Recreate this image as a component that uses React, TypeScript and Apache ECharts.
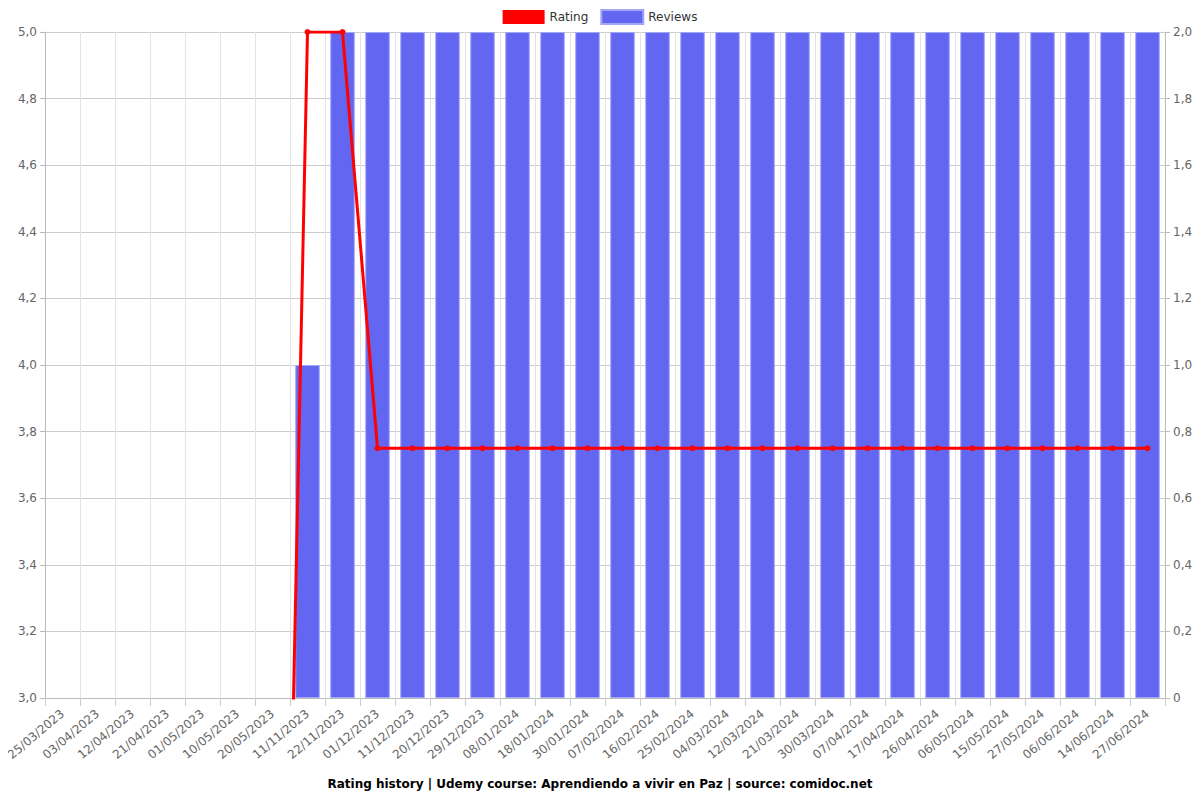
import React, { useEffect, useRef } from "react";
import * as echarts from "echarts";

const categories = [
  "25/03/2023", "03/04/2023", "12/04/2023", "21/04/2023", "01/05/2023", "10/05/2023",
  "20/05/2023", "11/11/2023", "22/11/2023", "01/12/2023", "11/12/2023", "20/12/2023",
  "29/12/2023", "08/01/2024", "18/01/2024", "30/01/2024", "07/02/2024", "16/02/2024",
  "25/02/2024", "04/03/2024", "12/03/2024", "21/03/2024", "30/03/2024", "07/04/2024",
  "17/04/2024", "26/04/2024", "06/05/2024", "15/05/2024", "27/05/2024", "06/06/2024",
  "14/06/2024", "27/06/2024",
];

const ratingValues = [
  0, 0, 0, 0, 0, 0, 0, 5, 5, 3.75, 3.75, 3.75, 3.75, 3.75, 3.75, 3.75, 3.75, 3.75,
  3.75, 3.75, 3.75, 3.75, 3.75, 3.75, 3.75, 3.75, 3.75, 3.75, 3.75, 3.75, 3.75, 3.75,
];

const reviewValues = [
  0, 0, 0, 0, 0, 0, 0, 1, 2, 2, 2, 2, 2, 2, 2, 2, 2, 2, 2, 2, 2, 2, 2, 2, 2, 2, 2, 2,
  2, 2, 2, 2,
];

const titleText = "Rating history | Udemy course: Aprendiendo a vivir en Paz | source: comidoc.net";

const fmt = (v: number) => (v === 0 ? "0" : v.toFixed(1).replace(".", ","));

export default function App() {
  const ref = useRef<HTMLDivElement>(null);
  useEffect(() => {
    if (!ref.current) return;
    const chart = echarts.init(ref.current, undefined, { renderer: "svg" });
    const font = "DejaVu Sans";
    chart.setOption({
      animation: false,
      textStyle: { fontFamily: font },
      title: {
        text: titleText,
        left: "center",
        bottom: 5,
        textStyle: { fontFamily: font, fontSize: 12, fontWeight: "bold", color: "#000" },
      },
      legend: {
        top: 4,
        left: "center",
        itemWidth: 42,
        itemHeight: 14,
        itemGap: 12,
        textStyle: { fontFamily: font, fontSize: 12, color: "#333" },
        data: [
          { name: "Rating", icon: "rect" },
          { name: "Reviews", icon: "rect" },
        ],
      },
      grid: { left: 45, right: 35, top: 32, bottom: 102, containLabel: false },
      xAxis: {
        type: "category",
        data: categories,
        boundaryGap: true,
        axisLine: { lineStyle: { color: "#bbb" } },
        axisTick: { show: true, alignWithLabel: false, length: 8, lineStyle: { color: "#ccc" } },
        axisLabel: { rotate: 40, interval: 0, color: "#666", fontSize: 12, fontFamily: font, margin: 14 },
        splitLine: { show: true, lineStyle: { color: "#e3e3e3" } },
      },
      yAxis: [
        {
          type: "value",
          min: 3,
          max: 5,
          interval: 0.2,
          position: "left",
          axisLine: { show: true, lineStyle: { color: "#bbb" } },
          axisTick: { show: true, lineStyle: { color: "#bbb" } },
          axisLabel: { color: "#666", fontSize: 12, fontFamily: font, formatter: (v: number) => v.toFixed(1).replace(".", ",") },
          splitLine: { show: true, lineStyle: { color: "#ccc" } },
        },
        {
          type: "value",
          min: 0,
          max: 2,
          interval: 0.2,
          position: "right",
          axisLine: { show: true, lineStyle: { color: "#bbb" } },
          axisTick: { show: true, lineStyle: { color: "#bbb" } },
          axisLabel: { color: "#666", fontSize: 12, fontFamily: font, formatter: fmt },
          splitLine: { show: false },
        },
      ],
      series: [
        {
          name: "Rating",
          type: "line",
          yAxisIndex: 0,
          data: ratingValues,
          color: "#ff0000",
          lineStyle: { width: 3, color: "#ff0000" },
          symbol: "circle",
          symbolSize: 6,
          showSymbol: true,
          itemStyle: { color: "#ff0000" },
          clip: true,
          z: 5,
        },
        {
          name: "Reviews",
          type: "bar",
          yAxisIndex: 1,
          data: reviewValues.map((v) => ({
            value: v,
            itemStyle: v === 0 ? { borderWidth: 0 } : undefined,
          })),
          barWidth: "70%",
          color: "#6366f1",
          itemStyle: { color: "#6366f1", borderColor: "#a3a5f7", borderWidth: 1 },
          z: 2,
        },
      ],
    });
    return () => chart.dispose();
  }, []);
  return <div ref={ref} style={{ width: 1200, height: 800, marginLeft: -8, marginTop: -8 }} />;
}
